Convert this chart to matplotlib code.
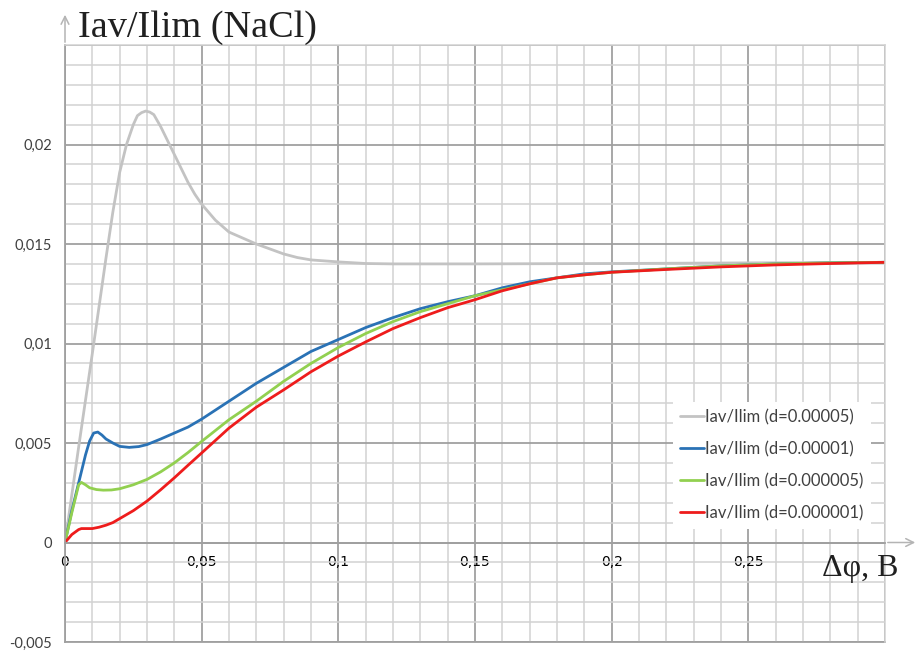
import matplotlib
matplotlib.use("Agg")
import matplotlib.pyplot as plt
from matplotlib.ticker import MultipleLocator

# Iav/Ilim versus potential drop for four values of d
x_d5e5 = [0, 0.005, 0.01, 0.015, 0.0175, 0.02, 0.0225, 0.025, 0.0265, 0.028, 0.0295,
          0.031, 0.0325, 0.035, 0.0375, 0.04, 0.0425, 0.045, 0.0475, 0.05, 0.055, 0.06,
          0.065, 0.07, 0.075, 0.08, 0.085, 0.09, 0.1, 0.11, 0.12, 0.15, 0.2, 0.25, 0.3]
y_d5e5 = [0, 0.0048, 0.0095, 0.0143, 0.0166, 0.0186, 0.0200, 0.0210, 0.02145, 0.0216,
          0.02168, 0.02163, 0.0215, 0.0209, 0.0202, 0.0195, 0.0188, 0.0181, 0.0175,
          0.0170, 0.0162, 0.0156, 0.0153, 0.0150, 0.01475, 0.01450, 0.01432, 0.0142,
          0.0141, 0.01402, 0.0140, 0.0140, 0.01402, 0.01405, 0.01408]

x_d1e5 = [0, 0.0025, 0.005, 0.0075, 0.009, 0.0105, 0.012, 0.0135, 0.015, 0.0175, 0.02,
          0.0235, 0.027, 0.03, 0.035, 0.04, 0.045, 0.05, 0.06, 0.07, 0.08, 0.09, 0.1,
          0.11, 0.12, 0.13, 0.14, 0.15, 0.16, 0.17, 0.18, 0.19, 0.2, 0.22, 0.24, 0.26,
          0.28, 0.3]
y_d1e5 = [0, 0.0016, 0.0030, 0.0044, 0.0051, 0.0055, 0.00555, 0.0054, 0.0052, 0.0050,
          0.00483, 0.00478, 0.00482, 0.00492, 0.0052, 0.0055, 0.0058, 0.0062, 0.0071,
          0.0080, 0.0088, 0.0096, 0.0102, 0.0108, 0.0113, 0.01175, 0.0121, 0.0124,
          0.0128, 0.0131, 0.0133, 0.0135, 0.0136, 0.01375, 0.0139, 0.0140, 0.01405,
          0.01408]

x_d5e6 = [0, 0.0025, 0.005, 0.006, 0.0075, 0.009, 0.0115, 0.014, 0.017, 0.02, 0.025,
          0.03, 0.035, 0.04, 0.045, 0.05, 0.06, 0.07, 0.08, 0.09, 0.1, 0.11, 0.12, 0.13,
          0.14, 0.15, 0.16, 0.17, 0.18, 0.19, 0.2, 0.22, 0.24, 0.26, 0.28, 0.3]
y_d5e6 = [0, 0.0015, 0.0029, 0.00302, 0.0029, 0.00275, 0.00266, 0.00263, 0.00264,
          0.0027, 0.0029, 0.00317, 0.00355, 0.0040, 0.00452, 0.00508, 0.00617, 0.0071,
          0.0081, 0.0090, 0.0098, 0.0105, 0.0111, 0.0116, 0.0120, 0.0124, 0.0127,
          0.0130, 0.0133, 0.01345, 0.01358, 0.01375, 0.0139, 0.0140, 0.01405, 0.01408]

x_d1e6 = [0, 0.0025, 0.005, 0.006, 0.0075, 0.01, 0.0125, 0.015, 0.0175, 0.02, 0.025,
          0.03, 0.035, 0.04, 0.045, 0.05, 0.06, 0.07, 0.08, 0.09, 0.1, 0.11, 0.12, 0.13,
          0.14, 0.15, 0.16, 0.17, 0.18, 0.19, 0.2, 0.22, 0.24, 0.26, 0.28, 0.3]
y_d1e6 = [0, 0.0004, 0.00065, 0.0007, 0.0007, 0.0007, 0.00077, 0.00087, 0.0010, 0.0012,
          0.0016, 0.00208, 0.00265, 0.00325, 0.00388, 0.0045, 0.00575, 0.0068, 0.00767,
          0.00858, 0.00937, 0.01008, 0.01075, 0.0113, 0.0118, 0.0122, 0.01265, 0.0130,
          0.0133, 0.01345, 0.01358, 0.01372, 0.01385, 0.01395, 0.01402, 0.01408]

series_labels = ["Iav/Ilim (d=0.00005)", "Iav/Ilim (d=0.00001)",
                 "Iav/Ilim (d=0.000005)", "Iav/Ilim (d=0.000001)"]
series_colors = ["#c3c3c3", "#2a72b5", "#92d050", "#ee1c1c"]

x_ticks = [0, 0.05, 0.1, 0.15, 0.2, 0.25, 0.3]
x_ticklabels = ["0", "0,05", "0,1", "0,15", "0,2", "0,25", ""]
y_ticks = [-0.005, 0, 0.005, 0.01, 0.015, 0.02, 0.025]
y_ticklabels = ["-0,005", "0", "0,005", "0,01", "0,015", "0,02", ""]

title_text = "Iav/Ilim (NaCl)"
xlabel_text = "Δφ, B"

W, H = 920, 652
fig = plt.figure(figsize=(W / 100, H / 100), dpi=100)
ax = fig.add_axes([65 / W, 1 - 642 / H, (885 - 65) / W, (642 - 45) / H])
ax.set_xlim(0, 0.3)
ax.set_ylim(-0.005, 0.025)

major_c, minor_c = "#a0a0a0", "#d2d2d2"
ax.set_xticks(x_ticks)
ax.set_yticks(y_ticks)
ax.xaxis.set_minor_locator(MultipleLocator(0.01))
ax.yaxis.set_minor_locator(MultipleLocator(0.001))
ax.grid(which="minor", color=minor_c, lw=1.1)
ax.grid(which="major", color=major_c, lw=1.3)
ax.set_axisbelow(True)

tick_font = dict(family=["Lato", "DejaVu Sans"], size=10.5)
ax.set_xticklabels(x_ticklabels, fontdict=tick_font, color="#404040")
ax.set_yticklabels(y_ticklabels, fontdict=tick_font, color="#404040")
ax.tick_params(which="both", length=0)
ax.tick_params(axis="y", pad=9.5)
ax.tick_params(axis="x", pad=9)

# x tick labels sit just under the zero line
ax.spines["bottom"].set_position(("data", 0))
ax.spines["bottom"].set_color(major_c)
ax.spines["bottom"].set_linewidth(1.3)
ax.spines["left"].set_color(major_c)
ax.spines["left"].set_linewidth(1.3)
for s in ("top", "right"):
    ax.spines[s].set_color(minor_c)
    ax.spines[s].set_linewidth(1.1)
ax.axhline(-0.005, color=major_c, lw=1.3, clip_on=False, zorder=0.5)

xs = [x_d5e5, x_d1e5, x_d5e6, x_d1e6]
ys = [y_d5e5, y_d1e5, y_d5e6, y_d1e6]
for xv, yv, lab, col in zip(xs, ys, series_labels, series_colors):
    ax.plot(xv, yv, color=col, lw=2.0, label=lab, solid_capstyle="round",
            solid_joinstyle="round")

leg = ax.legend(loc="center", bbox_to_anchor=(772 / W, 1 - 465 / H),
                bbox_transform=fig.transFigure, frameon=True, fancybox=False,
                framealpha=1, facecolor="white", edgecolor="none",
                prop=dict(family=["Lato", "DejaVu Sans"], size=12),
                handlelength=1.4, handletextpad=0.08, labelspacing=0.95,
                borderpad=0.45)
for t in leg.get_texts():
    t.set_color("#404040")

# axis arrows
arrow_c = "#b4b4b4"
ax.annotate("", xy=(0, (642 - 12) / 597), xytext=(0, 1), xycoords="axes fraction",
            arrowprops=dict(arrowstyle="->", color=arrow_c, lw=1.1, mutation_scale=14),
            annotation_clip=False)
ax.annotate("", xy=((918 - 65) / 820, 0), xytext=(1, 0),
            xycoords=("axes fraction", "data"),
            arrowprops=dict(arrowstyle="->", color=arrow_c, lw=1.1, mutation_scale=14),
            annotation_clip=False)

serif = ["Liberation Serif", "DejaVu Serif"]
fig.text(78 / W, 1 - 37 / H, title_text, family=serif, size=27.5, color="#202020",
         ha="left", va="baseline")
fig.text(822 / W, 1 - 576 / H, xlabel_text, family=serif, size=23, color="#202020",
         ha="left", va="baseline")

fig.savefig("out.png", dpi=100, facecolor="white")
